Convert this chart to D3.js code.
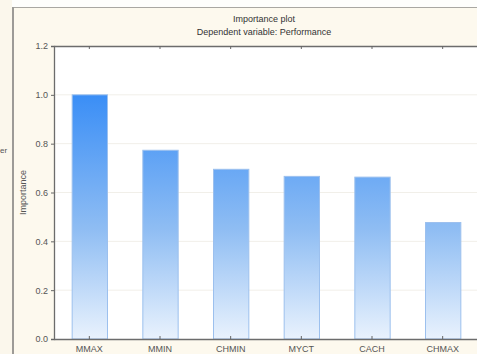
<!DOCTYPE html>
<html>
<head>
<meta charset="utf-8">
<script src="https://cdn.jsdelivr.net/npm/d3@7"></script>
<style>
  body { margin: 0; background: #fff; }
  svg { display: block; font-family: "Liberation Sans", Arial, sans-serif; }
</style>
</head>
<body>
<div id="chart"></div>
<script>
// Data
const variables = ["MMAX", "MMIN", "CHMIN", "MYCT", "CACH", "CHMAX"];
const importance = [1.0, 0.773, 0.695, 0.666, 0.663, 0.477];
const yTicks = [0.0, 0.2, 0.4, 0.6, 0.8, 1.0, 1.2];

const W = 477, H = 354;
const plot = { left: 54, right: 478, top: 46, bottom: 339 };

const svg = d3.select("#chart").append("svg")
  .attr("width", W)
  .attr("height", H);

// window chrome: beige panels and gray borders
svg.append("rect").attr("x", 0).attr("y", 0).attr("width", W).attr("height", H).attr("fill", "#fdf9ee");
svg.append("rect").attr("x", 0).attr("y", 0).attr("width", W).attr("height", 7).attr("fill", "#fefefc");
svg.append("line").attr("x1", 13).attr("x2", W).attr("y1", 7.5).attr("y2", 7.5)
  .attr("stroke", "#a9a7a2").attr("stroke-width", 1.2);
svg.append("rect").attr("x", 0).attr("y", 0).attr("width", 12).attr("height", H).attr("fill", "#fbf7ec");
svg.append("line").attr("x1", 13).attr("x2", 13).attr("y1", 7).attr("y2", H)
  .attr("stroke", "#9d9b97").attr("stroke-width", 2);
svg.append("text").attr("x", 0).attr("y", 153).attr("font-size", 8).attr("fill", "#555").text("er");

// Scales
const x = d3.scaleBand().domain(variables).range([plot.left, plot.right]).paddingInner(0.5).paddingOuter(0.25);
const y = d3.scaleLinear().domain([0, 1.2]).range([plot.bottom, plot.top]);

// plot background
svg.append("rect")
  .attr("x", plot.left).attr("y", plot.top)
  .attr("width", plot.right - plot.left).attr("height", plot.bottom - plot.top)
  .attr("fill", "#ffffff");

// faint grid lines
svg.append("g").selectAll("line").data(yTicks.slice(1, -1)).join("line")
  .attr("x1", plot.left).attr("x2", plot.right)
  .attr("y1", d => y(d)).attr("y2", d => y(d))
  .attr("stroke", "#f1efe9").attr("stroke-width", 1);

// gradient for bars
const grad = svg.append("defs").append("linearGradient")
  .attr("id", "barGrad")
  .attr("gradientUnits", "userSpaceOnUse")
  .attr("x1", 0).attr("x2", 0)
  .attr("y1", y(1.0)).attr("y2", y(0));
grad.append("stop").attr("offset", "0%").attr("stop-color", "#3a8ef6");
grad.append("stop").attr("offset", "55%").attr("stop-color", "#8fbdf3");
grad.append("stop").attr("offset", "100%").attr("stop-color", "#e9f2fd");

svg.append("g").selectAll("rect").data(variables).join("rect")
  .attr("x", d => x(d) + 0.5)
  .attr("y", (d, i) => y(importance[i]))
  .attr("width", x.bandwidth())
  .attr("height", (d, i) => y(0) - y(importance[i]))
  .attr("fill", "url(#barGrad)")
  .attr("stroke", "#9cc0ee")
  .attr("stroke-width", 1);

// axes
const leftAxis = svg.append("g").attr("transform", `translate(${plot.left},0)`)
  .call(d3.axisLeft(y).tickValues(yTicks).tickFormat(d3.format(".1f")).tickSize(3).tickPadding(3));
const bottomAxis = svg.append("g").attr("transform", `translate(0,${plot.bottom})`)
  .call(d3.axisBottom(x).tickSizeInner(-3).tickSizeOuter(0).tickPadding(7));
const topAxis = svg.append("g").attr("transform", `translate(0,${plot.top})`)
  .call(d3.axisTop(x).tickSizeInner(-3).tickSizeOuter(0).tickFormat(""));

[leftAxis, bottomAxis, topAxis].forEach(g => {
  g.select(".domain").attr("stroke", "#6c6c6c").attr("stroke-width", 1.3);
  g.selectAll(".tick line").attr("stroke", "#666");
  g.selectAll("text").attr("fill", "#555").attr("font-size", 9).attr("font-family", "Liberation Sans, Arial, sans-serif");
});

// title
svg.append("text").attr("x", (plot.left + plot.right) / 2 - 2).attr("y", 22)
  .attr("text-anchor", "middle").attr("font-size", 9).attr("fill", "#333")
  .text("Importance plot");
svg.append("text").attr("x", (plot.left + plot.right) / 2 - 2).attr("y", 35)
  .attr("text-anchor", "middle").attr("font-size", 9).attr("fill", "#333")
  .text("Dependent variable: Performance");

// y label
svg.append("text")
  .attr("transform", `translate(26,${(plot.top + plot.bottom) / 2}) rotate(-90)`)
  .attr("text-anchor", "middle").attr("font-size", 9).attr("fill", "#555")
  .text("Importance");
</script>
</body>
</html>
